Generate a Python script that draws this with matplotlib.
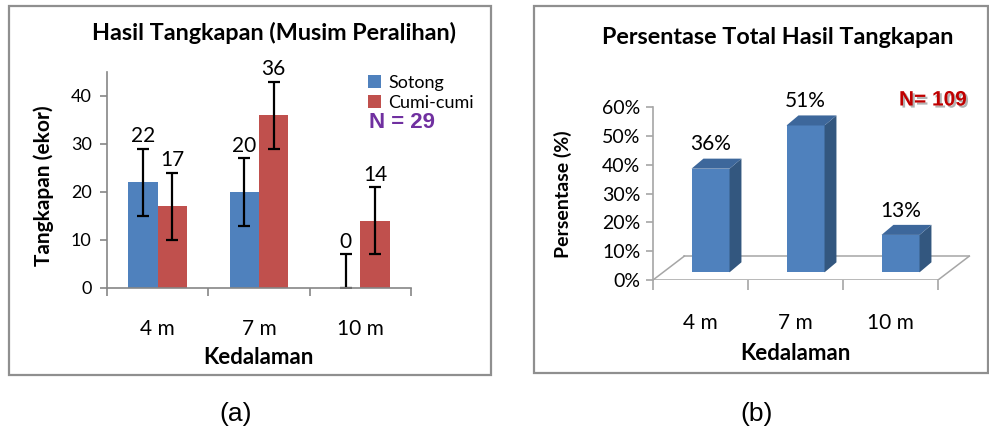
import numpy as np
import matplotlib
matplotlib.use("Agg")
import matplotlib.pyplot as plt
from matplotlib.patches import Rectangle, Polygon
import matplotlib.patheffects as pe

plt.rcParams['font.family'] = ['Lato', 'DejaVu Sans']

# --- data ---
depths = ["4 m", "7 m", "10 m"]
sotong = [22, 20, 0]
cumi = [17, 36, 14]
sotong_err = [7, 7, 7]
cumi_err = [7, 7, 7]
pct_total = [36, 51, 13]

W, H = 989, 428
fig = plt.figure(figsize=(W / 100, H / 100), dpi=100)


def box(x0, y0, x1, y1):
    # pixel box -> figure fraction [left, bottom, width, height]
    return [x0 / W, 1 - y1 / H, (x1 - x0) / W, (y1 - y0) / H]


def ftext(x, y, s, **kw):
    fig.text(x / W, 1 - y / H, s, ha='center', va='center', **kw)


grey = '#868686'
blue, red = '#4F81BD', '#C0504D'

# panel frames
for b in [box(9, 6, 491, 375), box(534, 6, 988, 373)]:
    fig.add_artist(Rectangle((b[0], b[1]), b[2], b[3], transform=fig.transFigure,
                             fill=False, edgecolor='#8F8F8F', lw=1.6))

# ---------------- (a) grouped bars with error bars ----------------
ax1 = fig.add_axes(box(107, 72, 411, 288))
x = np.arange(len(depths))
bw = 0.29
s_lo = np.minimum(sotong_err, sotong)
c_lo = np.minimum(cumi_err, cumi)
ax1.bar(x - bw / 2, sotong, bw, color=blue, label='Sotong')
ax1.bar(x + bw / 2, cumi, bw, color=red, label='Cumi-cumi')
ax1.errorbar(x - bw / 2, sotong, yerr=[s_lo, sotong_err], fmt='none', ecolor='black',
             elinewidth=1.6, capsize=4.5, capthick=1.6)
ax1.errorbar(x + bw / 2, cumi, yerr=[c_lo, cumi_err], fmt='none', ecolor='black',
             elinewidth=1.6, capsize=4.5, capthick=1.6)
for xi, v, e in zip(x - bw / 2, sotong, sotong_err):
    ax1.text(xi, v + e + 0.5, str(v), ha='center', va='bottom', fontsize=15)
for xi, v, e in zip(x + bw / 2, cumi, cumi_err):
    ax1.text(xi, v + e + 0.5, str(v), ha='center', va='bottom', fontsize=15)

ax1.set_xlim(-0.5, 2.5)
ax1.set_ylim(0, 45)
ax1.set_yticks([0, 10, 20, 30, 40])
ax1.set_xticks(x)
ax1.set_xticklabels(depths, fontsize=15)
ax1.set_xticks([-0.5, 0.5, 1.5, 2.5], minor=True)
ax1.tick_params(axis='x', which='major', length=0, pad=22)
ax1.tick_params(axis='x', which='minor', length=6, width=1.2, color=grey)
ax1.tick_params(axis='y', length=5, width=1.2, color=grey, labelsize=13, pad=6)
for s in ['top', 'right']:
    ax1.spines[s].set_visible(False)
for s in ['left', 'bottom']:
    ax1.spines[s].set_color(grey)
    ax1.spines[s].set_linewidth(1.2)
ax1.legend(loc='upper left', bbox_to_anchor=(0.83, 1.03), frameon=False, fontsize=13,
           handlelength=0.7, handleheight=0.7, handletextpad=0.4, labelspacing=0.25,
           borderpad=0)

ftext(274, 33, "Hasil Tangkapan (Musim Peralihan)", fontsize=16.8, fontweight='bold')
ftext(44, 186, "Tangkapan (ekor)", fontsize=15, fontweight='bold', rotation=90)
ftext(258, 357, "Kedalaman", fontsize=16, fontweight='bold')
ftext(402, 122, "N = 29", fontsize=16, fontweight='bold', color='#7030A0',
      family='Liberation Sans')

# ---------------- (b) pseudo-3D bars ----------------
ax2 = fig.add_axes(box(653, 100, 975, 280))
xb = np.arange(len(pct_total))
ax2.set_xlim(-0.5, -0.5 + (975 - 653) / 95)
ax2.set_ylim(0, 62.5)

# floor depth vector in data units
fdx, fdy = 0.33, 8.3
flo = dict(color='#A6A6A6', lw=1.1, zorder=1)
ax2.plot([-0.5, 2.5], [0, 0], **flo)
ax2.plot([-0.5, -0.5 + fdx], [0, fdy], **flo)
ax2.plot([-0.5 + fdx, 2.5 + fdx], [fdy, fdy], **flo)
ax2.plot([2.5, 2.5 + fdx], [0, fdy], **flo)

# bars sit partway back on the floor
sx, sy = 0.32 * fdx, 0.32 * fdy
ddx, ddy = 0.38 * fdx, 0.42 * fdy
bw2 = 0.4
ax2.bar(xb + sx, pct_total, bw2, bottom=sy, color=blue, zorder=3)
for xi, v in zip(xb, pct_total):
    l, r = xi + sx - bw2 / 2, xi + sx + bw2 / 2
    top = sy + v
    ax2.add_patch(Polygon([(r, sy), (r + ddx, sy + ddy), (r + ddx, top + ddy), (r, top)],
                          closed=True, facecolor='#33577F', edgecolor='none', zorder=3))
    ax2.add_patch(Polygon([(l, top), (l + ddx, top + ddy), (r + ddx, top + ddy), (r, top)],
                          closed=True, facecolor='#3D679B', edgecolor='none', zorder=3))
    ax2.text(xi + sx, top + ddy + 1.5, f"{v}%", ha='center', va='bottom', fontsize=15)

ax2.set_yticks(np.arange(0, 61, 10))
ax2.set_yticklabels([f"{t}%" for t in range(0, 61, 10)])
ax2.set_xticks(xb)
ax2.set_xticklabels(depths, fontsize=15)
ax2.set_xticks([-0.5, 0.5, 1.5, 2.5], minor=True)
ax2.tick_params(axis='x', which='major', length=0, pad=24)
ax2.tick_params(axis='x', which='minor', length=7, width=1.2, color='#A6A6A6')
ax2.tick_params(axis='y', length=5, width=1.2, color='#A6A6A6', labelsize=14, pad=4)
for s in ['top', 'right', 'bottom']:
    ax2.spines[s].set_visible(False)
ax2.spines['left'].set_color('#A6A6A6')
ax2.spines['left'].set_linewidth(1.2)
ax2.spines['left'].set_bounds(0, 60)

ftext(778, 38, "Persentase Total Hasil Tangkapan", fontsize=16.8, fontweight='bold')
ftext(563, 194, "Persentase (%)", fontsize=14, fontweight='bold', rotation=90)
ftext(795, 353, "Kedalaman", fontsize=16, fontweight='bold')
ftext(933, 100, "N= 109", fontsize=15, fontweight='bold', color='#C00000',
      family='Liberation Sans',
      path_effects=[pe.withSimplePatchShadow(offset=(1.5, -1.5), shadow_rgbFace='#808080', alpha=0.6)])

ftext(236, 414, "(a)", fontsize=19, family='Liberation Sans')
ftext(757, 414, "(b)", fontsize=19, family='Liberation Sans')

fig.savefig("out.png", dpi=100)
